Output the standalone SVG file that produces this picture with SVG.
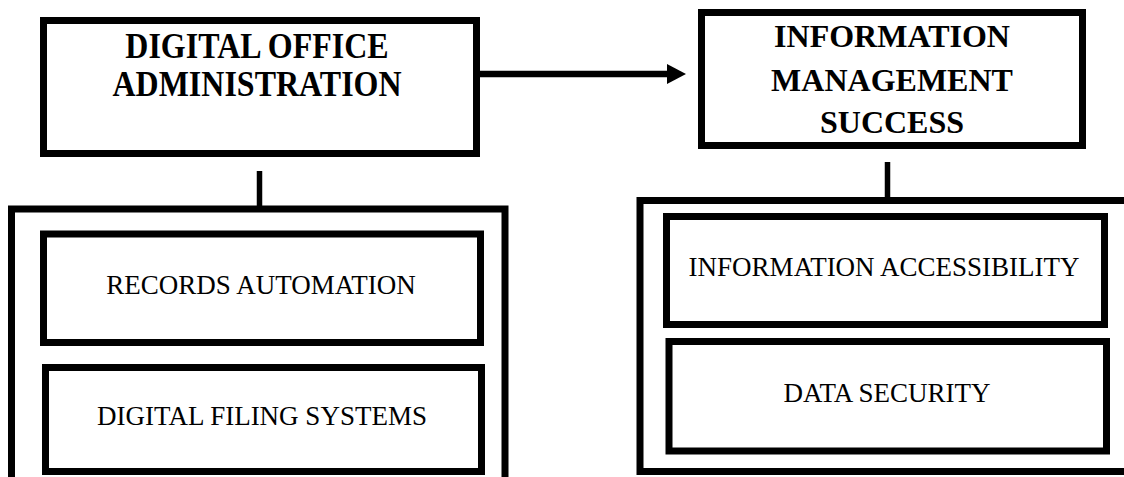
<svg xmlns="http://www.w3.org/2000/svg" width="1124" height="477" viewBox="0 0 1124 477">
<style>
.box{fill:#fff;stroke:#000;stroke-width:7}
.frame{fill:none;stroke:#000;stroke-width:7}
.conn{stroke:#000;stroke-width:5.5;fill:none}
.hd{font-family:"Liberation Serif","Times New Roman",serif;font-weight:bold;font-size:32px;text-anchor:middle;fill:#000}
.lb{font-family:"Liberation Serif","Times New Roman",serif;font-size:27px;text-anchor:middle;fill:#000}
</style>
<rect width="1124" height="477" fill="#fff"/>
<g id="connectors">
<line class="conn" x1="471" y1="74" x2="668" y2="74" style="stroke-width:6.5"/>
<polygon points="667,64 686,74 667,84" fill="#000"/>
<line class="conn" x1="259.5" y1="171" x2="259.5" y2="206"/>
<line class="conn" x1="887.5" y1="162" x2="887.5" y2="198"/>
</g>
<g id="digital-office-administration">
<rect class="box" x="43.5" y="20.5" width="433" height="133"/>
<text class="hd" transform="translate(257,58) scale(1,1.12)">DIGITAL OFFICE</text>
<text class="hd" transform="translate(257,96) scale(1,1.12)">ADMINISTRATION</text>
</g>
<g id="information-management-success">
<rect class="box" x="701.5" y="12.5" width="381" height="133"/>
<text class="hd" x="892" y="47">INFORMATION</text>
<text class="hd" x="892" y="91">MANAGEMENT</text>
<text class="hd" x="892" y="133">SUCCESS</text>
</g>
<g id="left-group">
<path class="frame" d="M11.5,485 V209 H505 V485"/>
</g>
<g id="records-automation">
<rect class="box" x="43.5" y="234" width="437" height="108.5"/>
<text class="lb" x="261" y="294">RECORDS AUTOMATION</text>
</g>
<g id="digital-filing-systems">
<rect class="box" x="45.5" y="367.5" width="436" height="104"/>
<text class="lb" x="262" y="425">DIGITAL FILING SYSTEMS</text>
</g>
<g id="right-group">
<path class="frame" d="M1130,200.5 H640 V471.5 H1130"/>
</g>
<g id="information-accessibility">
<rect class="box" x="666.5" y="216.5" width="438" height="108"/>
<text class="lb" x="884" y="276">INFORMATION ACCESSIBILITY</text>
</g>
<g id="data-security">
<rect class="box" x="669" y="341.5" width="437.5" height="109.5"/>
<text class="lb" x="887" y="402">DATA SECURITY</text>
</g>
</svg>
